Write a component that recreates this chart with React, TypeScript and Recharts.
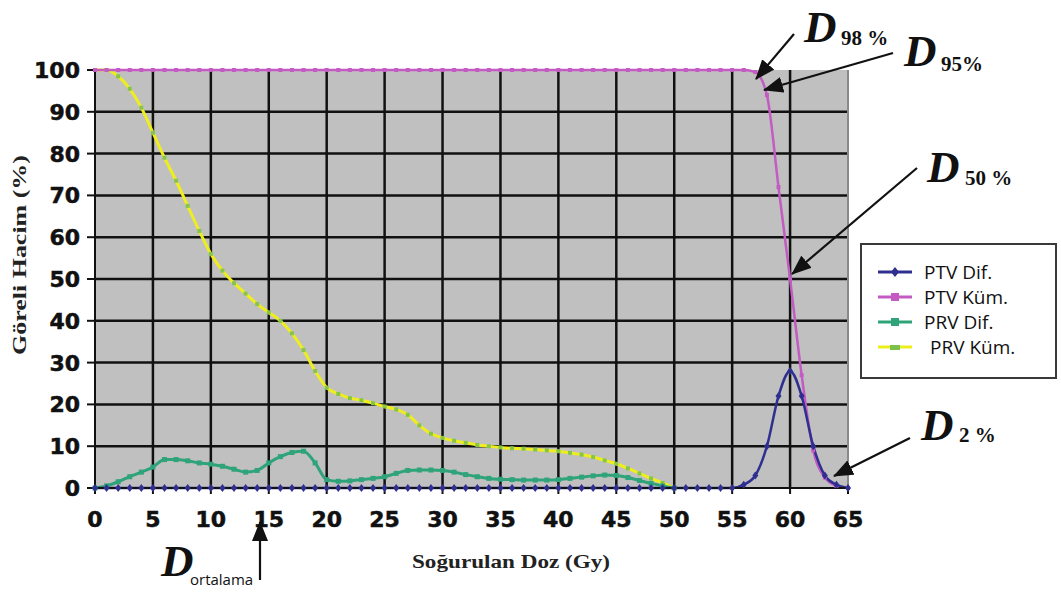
import React from "react";
import {
    LineChart,
    Line,
    XAxis,
    YAxis,
    CartesianGrid,
    ReferenceLine
} from "recharts";

// dose samples (Gy), one per 1 Gy
const doses = [
    0, 1, 2, 3, 4, 5, 6, 7, 8, 9, 10, 11, 12, 13, 14, 15, 16, 17, 18, 19, 20, 21,
    22, 23, 24, 25, 26, 27, 28, 29, 30, 31, 32, 33, 34, 35, 36, 37, 38, 39, 40, 41,
    42, 43, 44, 45, 46, 47, 48, 49, 50, 51, 52, 53, 54, 55, 56, 57, 58, 59, 60, 61,
    62, 63, 64, 65
];

const ptvDif = [
    0, 0, 0, 0, 0, 0, 0, 0, 0, 0, 0, 0, 0, 0, 0, 0, 0, 0, 0, 0, 0, 0, 0, 0, 0, 0, 0, 0,
    0, 0, 0, 0, 0, 0, 0, 0, 0, 0, 0, 0, 0, 0, 0, 0, 0, 0, 0, 0, 0, 0, 0, 0, 0, 0, 0, 0,
    0.8, 3, 10, 22, 28, 22, 10, 3, 0.8, 0
];

const ptvKum = [
    100, 100, 100, 100, 100, 100, 100, 100, 100, 100, 100, 100, 100, 100, 100, 100,
    100, 100, 100, 100, 100, 100, 100, 100, 100, 100, 100, 100, 100, 100, 100, 100,
    100, 100, 100, 100, 100, 100, 100, 100, 100, 100, 100, 100, 100, 100, 100, 100,
    100, 100, 100, 100, 100, 100, 100, 100, 100,
    99.5, 94, 72, 50, 27, 9, 2.5, 0.5, 0
];

const prvDif = [
    0, 0.5, 1.5, 2.7, 3.8, 5, 6.8, 6.8, 6.5, 6, 5.7, 5.2, 4.5, 3.8, 4.2, 6, 7.5, 8.5,
    8.8, 6, 2, 1.6, 1.7, 2, 2.3, 2.7, 3.5, 4.2, 4.3, 4.3, 4.2, 3.8, 3.2, 2.7, 2.3, 2.1,
    2, 1.9, 1.9, 1.9, 2, 2.3, 2.6, 2.9, 3.1, 3, 2.5, 1.8, 1.1, 0.5, 0,
    null, null, null, null, null, null, null, null, null, null, null, null, null, null, null
];

const prvKum = [
    100, 100, 98.5, 95.5, 91, 85, 79, 73.5, 67.5, 61.5, 56, 52, 49, 46.5, 44, 42, 40,
    37, 33, 28, 24, 22.5, 21.5, 21, 20.3, 19.5, 18.8, 17.5, 15, 13, 12, 11.3, 10.8,
    10.3, 10, 9.7, 9.5, 9.4, 9.2, 9, 8.8, 8.4, 8, 7.4, 6.6, 5.8, 4.7, 3.5, 2.3, 1.2, 0,
    null, null, null, null, null, null, null, null, null, null, null, null, null, null, null
];

const xMajorTicks = [0, 5, 10, 15, 20, 25, 30, 35, 40, 45, 50, 55, 60, 65];
const yTicks = [0, 10, 20, 30, 40, 50, 60, 70, 80, 90, 100];

const data = doses.map((d, i) => ({
    dose: d,
    ptvDif: ptvDif[i],
    ptvKum: ptvKum[i],
    prvDif: prvDif[i],
    prvKum: prvKum[i]
}));

const COLORS = {
    ptvDif: "#2e2f8f",
    ptvKum: "#c35bc3",
    prvDif: "#2fa37a",
    prvKum: "#eeee1e"
};

const TICK_FONT = "'DejaVu Sans', sans-serif";
const SERIF = "'Liberation Serif', 'DejaVu Serif', serif";

const diamondDot = (props: any) => {
    const { cx, cy, value, index } = props;
    if (value == null || cx == null || cy == null) return <g key={`pd-${index}`} />;
    return (
        <path
            key={`pd-${index}`}
            d={`M${cx},${cy - 4} L${cx + 3},${cy} L${cx},${cy + 4} L${cx - 3},${cy} Z`}
            fill={COLORS.ptvDif}
        />
    );
};

const squareDot = (color: string, size: number, prefix: string) => (props: any) => {
    const { cx, cy, value, index } = props;
    if (value == null || cx == null || cy == null) return <g key={`${prefix}-${index}`} />;
    return (
        <rect
            key={`${prefix}-${index}`}
            x={cx - size / 2}
            y={cy - size / 2}
            width={size}
            height={size}
            fill={color}
        />
    );
};

const renderXTick = (props: any) => {
    const { x, y, payload } = props;
    return (
        <text
            x={x}
            y={y + 31}
            textAnchor="middle"
            fontFamily={TICK_FONT}
            fontWeight="bold"
            fontSize={22}
            fill="#111"
            stroke="#111"
            strokeWidth={0.5}
        >
            {payload.value}
        </text>
    );
};

const renderYTick = (props: any) => {
    const { x, y, payload } = props;
    return (
        <text
            x={x - 5}
            y={y + 8}
            textAnchor="end"
            fontFamily={TICK_FONT}
            fontWeight="bold"
            fontSize={22}
            fill="#111"
            stroke="#111"
            strokeWidth={0.5}
        >
            {payload.value}
        </text>
    );
};

const legendItems = [
    { key: "ptvDif", label: "PTV Dif.", marker: "diamond" },
    { key: "ptvKum", label: "PTV Küm.", marker: "square" },
    { key: "prvDif", label: "PRV Dif.", marker: "square" },
    { key: "prvKum", label: "PRV Küm.", marker: "dash" }
];

const LegendBox = () => (
    <div
        style={{
            position: "absolute",
            left: 860,
            top: 243,
            width: 193,
            height: 118,
            border: "2px solid #3a3a3a",
            background: "#fff",
            paddingTop: 14
        }}
    >
        {legendItems.map((item, i) => {
            const color = (COLORS as any)[item.key];
            return (
                <div
                    key={item.key}
                    style={{
                        display: "flex",
                        alignItems: "center",
                        height: 25,
                        fontFamily: "'Open Sans', Lato, sans-serif",
                        fontSize: 19,
                        color: "#111"
                    }}
                >
                    <svg width={34} height={12} style={{ marginLeft: 16, marginRight: i === 3 ? 18 : 12 }}>
                        <line x1={0} y1={6} x2={34} y2={6} stroke={color} strokeWidth={3} />
                        {item.marker === "diamond" && (
                            <path d="M17,1 L21,6 L17,11 L13,6 Z" fill={color} />
                        )}
                        {item.marker === "square" && (
                            <rect x={13} y={2} width={8} height={8} fill={color} />
                        )}
                        {item.marker === "dash" && (
                            <rect x={12} y={4} width={10} height={5} fill="#7cc24a" />
                        )}
                    </svg>
                    <span>{item.label}</span>
                </div>
            );
        })}
    </div>
);

const Arrow = ({ x1, y1, x2, y2 }: { x1: number; y1: number; x2: number; y2: number }) => (
    <line x1={x1} y1={y1} x2={x2} y2={y2} stroke="#111" strokeWidth={2.2} markerEnd="url(#arrowHead)" />
);

const DLabel = ({ x, y, sub, subSize = 21, subFont = SERIF, subBold = true, dx = 37, dy = 4 }: any) => (
    <text x={x} y={y} fontFamily={SERIF} fill="#111">
        <tspan fontSize={45} fontWeight="bold" fontStyle="italic">D</tspan>
        <tspan
            x={x + dx}
            y={y + dy}
            fontSize={subSize}
            fontFamily={subFont}
            fontWeight={subBold ? "bold" : "normal"}
        >
            {sub}
        </tspan>
    </text>
);

const Annotations = () => (
    <svg
        width={1061}
        height={595}
        style={{ position: "absolute", left: 0, top: 0, pointerEvents: "none" }}
    >
        <defs>
            <marker
                id="arrowHead"
                markerWidth="20"
                markerHeight="16"
                refX="19"
                refY="8"
                orient="auto"
                markerUnits="userSpaceOnUse"
            >
                <path d="M0,0 L20,8 L0,16 Z" fill="#111" />
            </marker>
        </defs>
        <Arrow x1={794} y1={34} x2={756} y2={79} />
        <Arrow x1={893} y1={53} x2={764} y2={90} />
        <Arrow x1={917} y1={168} x2={792} y2={274} />
        <Arrow x1={910} y1={438} x2={834} y2={476} />
        <Arrow x1={260} y1={580} x2={260} y2={522} />

        <DLabel x={804} y={42} sub="98 %" dy={3} />
        <DLabel x={904} y={66} sub="95%" dy={5} />
        <DLabel x={927} y={182} sub="50 %" dx={38} dy={3} />
        <DLabel x={921} y={440} sub="2 %" dx={38} dy={2} />
        <DLabel
            x={161}
            y={576}
            sub="ortalama"
            subSize={15}
            subFont="'Open Sans', Lato, sans-serif"
            subBold={false}
            dx={29}
            dy={9}
        />

        <text
            x={412}
            y={568}
            textLength={198}
            lengthAdjust="spacingAndGlyphs"
            fontFamily={SERIF}
            fontWeight="bold"
            fontSize={19}
            fill="#222"
        >
            Soğurulan Doz (Gy)
        </text>
        <text
            x={26}
            y={355}
            textLength={200}
            lengthAdjust="spacingAndGlyphs"
            transform="rotate(-90 26 355)"
            fontFamily={SERIF}
            fontWeight="bold"
            fontSize={19}
            fill="#222"
        >
            Göreli Hacim (%)
        </text>
    </svg>
);

const App = () => {
    return (
        <div style={{ position: "absolute", left: 0, top: 0, width: 1061, height: 595, background: "#fff" }}>
            <LineChart
                width={1061}
                height={595}
                data={data}
                margin={{ top: 70, right: 213, bottom: 67, left: 0 }}
            >
                <CartesianGrid
                    fill="#c0c0c0"
                    fillOpacity={1}
                    stroke="#111"
                    strokeWidth={2.5}
                    verticalCoordinatesGenerator={(args: any) => {
                        const { xAxis, offset } = args;
                        return xMajorTicks
                            .filter((v) => v > 0 && v < 65)
                            .map((v) =>
                                xAxis && typeof xAxis.scale === "function"
                                    ? xAxis.scale(v)
                                    : offset.left + (v / 65) * offset.width
                            );
                    }}
                    horizontalCoordinatesGenerator={(args: any) => {
                        const { yAxis, offset } = args;
                        return yTicks
                            .filter((v) => v > 0 && v < 100)
                            .map((v) =>
                                yAxis && typeof yAxis.scale === "function"
                                    ? yAxis.scale(v)
                                    : offset.top + offset.height * (1 - v / 100)
                            );
                    }}
                />
                <ReferenceLine x={65} stroke="#8a8a8a" strokeWidth={2} />
                <XAxis
                    dataKey="dose"
                    type="number"
                    domain={[0, 65]}
                    ticks={xMajorTicks}
                    interval={0}
                    axisLine={{ stroke: "#111", strokeWidth: 2 }}
                    tickLine={{ stroke: "#111", strokeWidth: 2 }}
                    tickSize={6}
                    tick={renderXTick}
                    height={40}
                />
                <YAxis
                    type="number"
                    domain={[0, 100]}
                    ticks={yTicks}
                    interval={0}
                    width={95}
                    axisLine={{ stroke: "#111", strokeWidth: 2 }}
                    tickLine={{ stroke: "#111", strokeWidth: 2 }}
                    tickSize={8}
                    tick={renderYTick}
                />
                <Line
                    type="monotone"
                    dataKey="prvKum"
                    stroke={COLORS.prvKum}
                    strokeWidth={3}
                    dot={squareDot("#86c44c", 4, "yk")}
                    connectNulls={false}
                    isAnimationActive={false}
                />
                <Line
                    type="monotone"
                    dataKey="prvDif"
                    stroke={COLORS.prvDif}
                    strokeWidth={3}
                    dot={squareDot(COLORS.prvDif, 5, "gd")}
                    connectNulls={false}
                    isAnimationActive={false}
                />
                <Line
                    type="monotone"
                    dataKey="ptvKum"
                    stroke={COLORS.ptvKum}
                    strokeWidth={2.5}
                    dot={squareDot(COLORS.ptvKum, 4, "pk")}
                    isAnimationActive={false}
                />
                <Line
                    type="monotone"
                    dataKey="ptvDif"
                    stroke={COLORS.ptvDif}
                    strokeWidth={2.5}
                    dot={diamondDot}
                    isAnimationActive={false}
                />
            </LineChart>
            <LegendBox />
            <Annotations />
        </div>
    );
};

export default App;
